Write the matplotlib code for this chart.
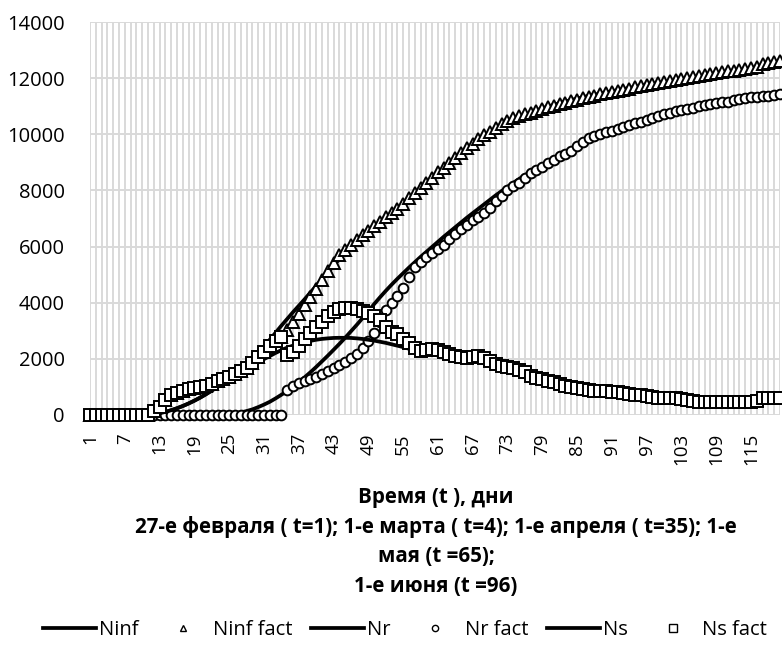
import matplotlib
matplotlib.use("Agg")
import matplotlib.pyplot as plt
from matplotlib.lines import Line2D

plt.rcParams['font.family'] = ['Open Sans', 'DejaVu Sans']

# days since 27 Feb (t = 1 .. 120)
days = list(range(1, 121))

# model curves
ninf_model = [0, 0, 1, 1, 2, 2, 3, 4, 6, 9, 13,
              20, 60, 110, 170, 240, 320, 410, 510, 620,
              740, 870, 1010, 1160, 1310, 1470, 1630, 1790, 1960, 2190,
              2430, 2680, 2930, 3180, 3420, 3660, 3890, 4120, 4360, 4600,
              4840, 5070, 5300, 5560, 5800, 6000, 6190, 6370, 6540, 6710,
              6870, 7030, 7190, 7350, 7520, 7700, 7880, 8060, 8250, 8430,
              8610, 8780, 8950, 9120, 9290, 9450, 9610, 9760, 9900, 10040,
              10170, 10290, 10400, 10500, 10600, 10690, 10770, 10850, 10920, 10990,
              11050, 11110, 11170, 11220, 11270, 11320, 11370, 11410, 11450, 11490,
              11530, 11570, 11610, 11650, 11690, 11720, 11760, 11790, 11820, 11860,
              11890, 11920, 11950, 11980, 12010, 12040, 12070, 12100, 12130, 12160,
              12190, 12220, 12250, 12280, 12310, 12340, 12370, 12400, 12430, 12460]

nr_model = [0, 0, 0, 0, 0, 0, 0, 0, 0, 0,
            0, 0, 0, 0, 0, 0, 0, 0, 0, 0,
            0, 0, 5, 15, 30, 55, 90, 140, 200, 280,
            370, 470, 590, 720, 860, 1010, 1170, 1340, 1520, 1710,
            1910, 2110, 2320, 2530, 2750, 2980, 3210, 3450, 3700, 3950,
            4190, 4420, 4640, 4850, 5050, 5250, 5440, 5630, 5810, 5990,
            6170, 6350, 6520, 6690, 6860, 7030, 7190, 7350, 7510, 7670,
            7830, 7980, 8130, 8270, 8410, 8540, 8670, 8790, 8910, 9030,
            9140, 9250, 9350, 9450, 9550, 9650, 9740, 9830, 9910, 9990,
            10060, 10130, 10200, 10270, 10340, 10400, 10460, 10520, 10580, 10640,
            10690, 10740, 10790, 10840, 10890, 10930, 10970, 11010, 11050, 11090,
            11130, 11170, 11210, 11240, 11270, 11300, 11330, 11360, 11390, 11420]

ns_model = [0, 0, 1, 1, 2, 2, 3, 4, 6, 9, 13,
            20, 60, 110, 170, 240, 320, 410, 510, 620,
            740, 870, 1000, 1140, 1270, 1400, 1520, 1640, 1760, 1880,
            1990, 2100, 2210, 2310, 2400, 2470, 2540, 2600, 2640, 2680,
            2710, 2730, 2745, 2750, 2750, 2745, 2730, 2710, 2680, 2650,
            2610, 2570, 2520, 2470, 2420, 2360, 2300, 2250, 2200, 2160,
            2120, 2080, 2050, 2020, 1990, 1960, 1930, 1890, 1860, 1820,
            1780, 1740, 1700, 1650, 1600, 1550, 1500, 1450, 1400, 1350,
            1300, 1250, 1200, 1150, 1100, 1060, 1020, 980, 940, 900,
            860, 830, 800, 770, 740, 720, 690, 670, 650, 630,
            610, 590, 575, 560, 545, 530, 520, 510, 500, 495,
            490, 485, 480, 475, 470, 465, 460, 455, 450, 445]

# observed data
ninf_fact = [0, 0, 0, 0, 0, 1, 1, 2, 3, 5, 8,
             150, 300, 520, 700, 800, 860, 910, 950, 990,
             1030, 1120, 1220, 1290, 1370, 1460, 1550, 1660, 1860, 2050,
             2250, 2450, 2620, 2780,
             3040, 3300, 3600, 3920, 4200, 4500, 4800, 5130, 5420, 5700,
             5880, 6050, 6230, 6400, 6560, 6720, 6880, 7040, 7190, 7340,
             7520, 7720, 7900, 8080, 8280, 8460, 8640, 8800, 8970, 9150,
             9330, 9500, 9660, 9820, 9960, 10090, 10230, 10360, 10480, 10570,
             10640, 10710, 10770, 10840, 10900, 10960, 11020, 11080, 11130, 11180,
             11220, 11280, 11340, 11380, 11420, 11460, 11510, 11550, 11590, 11630,
             11670, 11710, 11750, 11790, 11830, 11870, 11900, 11930, 11970, 12000,
             12040, 12070, 12110, 12150, 12180, 12210, 12240, 12270, 12300, 12340,
             12370, 12400, 12500, 12530, 12560, 12600]

nr_fact = [0, 0, 0, 0, 0, 0, 0, 0, 0, 0,
           0, 0, 0, 0, 0, 0, 0, 0, 0, 0,
           0, 0, 0, 0, 0, 0, 0, 0, 0, 0,
           0, 0, 0, 0,
           890, 1050, 1150, 1220, 1290, 1360, 1450, 1560, 1670, 1780,
           1900, 2040, 2190, 2380, 2640, 2920, 3300, 3740, 4000, 4230,
           4540, 4930, 5280, 5460, 5640, 5770, 5900, 6060, 6270, 6460,
           6630, 6770, 6930, 7070, 7210, 7380, 7620, 7810, 8000, 8170,
           8280, 8460, 8620, 8730, 8850, 8980, 9100, 9220, 9310, 9420,
           9580, 9720, 9870, 9940, 10000, 10070, 10130, 10180, 10250, 10330,
           10390, 10440, 10510, 10580, 10650, 10720, 10770, 10830, 10870, 10900,
           10950, 10990, 11030, 11070, 11110, 11140, 11160, 11210, 11260, 11300,
           11330, 11340, 11350, 11370, 11410, 11430]

ns_fact = [0, 0, 0, 0, 0, 1, 1, 2, 3, 5, 8,
           150, 300, 520, 700, 800, 860, 910, 950, 990,
           1030, 1120, 1220, 1290, 1370, 1460, 1550, 1660, 1860, 2050,
           2250, 2450, 2620, 2780,
           2150, 2250, 2450, 2700, 2930, 3130,
           3320, 3530, 3680, 3780, 3800, 3800, 3780, 3720, 3640, 3530,
           3380, 3150, 2960, 2880, 2720, 2550, 2380, 2290, 2330, 2340,
           2300, 2240, 2170, 2110, 2070, 2040, 2080, 2100, 2040, 1930,
           1830, 1760, 1720, 1670, 1620, 1520, 1400, 1330, 1270, 1220,
           1160, 1110, 1050, 1000, 960, 910, 880, 860, 850, 840,
           830, 810, 780, 750, 720, 700, 670, 650, 620, 600,
           590, 590, 580, 530, 490, 470, 470, 470, 480, 480,
           480, 480, 480, 480, 480, 500, 590, 600, 600, 610]

fig = plt.figure(figsize=(7.82, 6.57), dpi=100)
ax = fig.add_axes([90 / 782, 1 - 415 / 657, 690 / 782, 393 / 657])

lw = 2.7
mk = dict(linestyle='none', markerfacecolor='white', markeredgecolor='black',
          markeredgewidth=1.4, clip_on=False)

ax.plot(days, ninf_model, color='black', lw=lw, label='Ninf', zorder=3)
ax.plot(days, ninf_fact, marker='^', markersize=9, label='Ninf fact', zorder=4, **mk)
ax.plot(days, nr_model, color='black', lw=lw, label='Nr', zorder=5)
ax.plot(days, nr_fact, marker='o', markersize=7, label='Nr fact', zorder=6, **mk)
ax.plot(days, ns_model, color='black', lw=lw, label='Ns', zorder=7)
ax.plot(days, ns_fact, marker='s', markersize=8.5, label='Ns fact', zorder=8, **mk)

ax.set_xlim(1, 120)
ax.set_ylim(0, 14000)
ax.set_xticks(days[::6])
ax.set_xticks(days, minor=True)
ax.set_yticks(range(0, 14001, 2000))
ax.grid(True, which='both', color='#d9d9d9', lw=1.4)
ax.set_axisbelow(True)
for s in ax.spines.values():
    s.set_visible(False)
ax.tick_params(which='both', length=0)
ax.tick_params(axis='x', labelsize=13.5, rotation=90, pad=13)
ax.tick_params(axis='y', labelsize=14.5, pad=18)

# axis title, line by line
title_lines = ['Время (t ), дни',
               '27-е февраля ( t=1); 1-е марта ( t=4); 1-е апреля ( t=35); 1-е',
               'мая (t =65);',
               '1-е июня (t =96)']
for i, txt in enumerate(title_lines):
    fig.text(436 / 782, 1 - (497 + 30 * i) / 657, txt, ha='center', va='center',
             fontsize=14.8, fontweight='bold')

handles = [
    Line2D([], [], color='black', lw=lw),
    Line2D([], [], marker='^', ls='none', mfc='white', mec='black', ms=5, mew=1),
    Line2D([], [], color='black', lw=lw),
    Line2D([], [], marker='o', ls='none', mfc='white', mec='black', ms=4.5, mew=1),
    Line2D([], [], color='black', lw=lw),
    Line2D([], [], marker='s', ls='none', mfc='white', mec='black', ms=5.5, mew=1),
]
labels = ['Ninf', 'Ninf fact', 'Nr', 'Nr fact', 'Ns', 'Ns fact']
fig.legend(handles, labels, loc='center', bbox_to_anchor=(405 / 782, 1 - 630 / 657),
           ncol=6, frameon=False, fontsize=14.5, handlelength=2.6, handletextpad=0.15,
           columnspacing=0.95)

fig.savefig('out.png', dpi=100)
